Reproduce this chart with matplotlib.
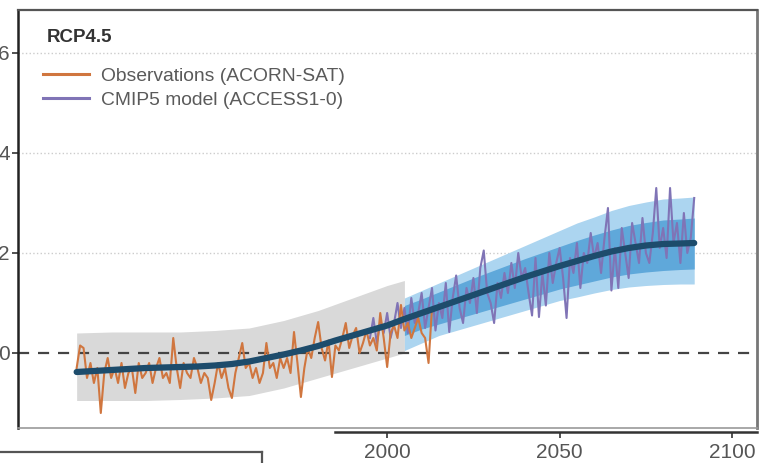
import numpy as np
import matplotlib
matplotlib.use("Agg")
import matplotlib.pyplot as plt
from matplotlib.lines import Line2D

plt.rcParams['font.family'] = ['Liberation Sans', 'DejaVu Sans']

# observed annual anomalies (ACORN-SAT), 1910-2013
obs_years = list(range(1910, 2014))
obs_vals = [
    -0.30, 0.15, 0.10, -0.50, -0.20, -0.60, -0.30, -1.20, -0.40, -0.10,
    -0.50, -0.30, -0.60, -0.20, -0.70, -0.40, -0.30, -0.80, -0.20, -0.50,
    -0.40, -0.20, -0.60, -0.30, -0.10, -0.50, -0.40, -0.60, 0.30, -0.30,
    -0.70, -0.20, -0.40, -0.50, -0.10, -0.30, -0.60, -0.40, -0.50, -0.94,
    -0.60, -0.20, -0.50, -0.30, -0.70, -0.90, -0.40, -0.10, 0.20, -0.30,
    -0.20, -0.50, -0.30, -0.60, -0.40, 0.20, -0.30, -0.20, -0.50, -0.10,
    -0.30, -0.10, -0.40, 0.42, -0.20, -0.88, -0.30, 0.10, -0.10, 0.30,
    0.62, 0.10, -0.15, 0.25, -0.48, 0.15, 0.05, 0.30, 0.60, 0.10,
    0.35, 0.50, 0.00, 0.20, 0.45, 0.15, 0.30, 0.05, 0.80, 0.30,
    -0.28, 0.40, 0.55, 0.30, 0.96, 0.45, 0.60, 0.30, 0.50, 0.70,
    0.40, 0.30, -0.20, 0.90,
]

# simulated annual anomalies (ACCESS1-0), 1995-2089
mod_years = list(range(1995, 2090))
mod_vals = [
    0.30, 0.70, 0.20, 0.60, 0.40,
    0.80, 0.30, 0.60, 1.00, 0.50, 0.90, 0.40, 1.10, 0.60, 0.80,
    1.20, 0.50, 0.90, 1.30, 0.45, 1.00, 0.70, 1.40, 0.42, 1.10,
    1.55, 0.90, 0.60, 1.30, 1.00, 1.50, 0.80, 1.70, 2.05, 1.20,
    1.00, 0.60, 1.40, 1.10, 1.60, 1.20, 1.80, 1.30, 2.00, 1.50,
    1.70, 1.20, 0.75, 1.90, 0.72, 1.60, 0.95, 2.00, 1.40, 1.80,
    2.10, 1.50, 0.70, 1.90, 1.60, 2.20, 1.30, 2.00, 1.80, 2.40,
    1.90, 2.20, 1.60, 2.30, 2.90, 1.25, 2.10, 1.30, 2.50, 2.00,
    1.50, 2.60, 2.20, 1.80, 2.70, 2.00, 1.80, 2.40, 3.30, 2.10,
    2.50, 1.90, 3.30, 2.20, 2.60, 1.80, 2.80, 2.00, 2.30, 3.10,
]

# multi-model mean (smoothed)
mean_years = [1910, 1915, 1920, 1925, 1930, 1935, 1940, 1945, 1950, 1955,
              1960, 1965, 1970, 1975, 1980, 1985, 1990, 1995, 2000, 2005,
              2010, 2015, 2020, 2025, 2030, 2035, 2040, 2045, 2050, 2055,
              2060, 2065, 2070, 2075, 2080, 2085, 2089]
mean_vals = [-0.38, -0.36, -0.34, -0.32, -0.30, -0.29, -0.28, -0.27, -0.25, -0.22,
             -0.17, -0.10, -0.03, 0.05, 0.14, 0.25, 0.35, 0.45, 0.55, 0.68,
             0.80, 0.92, 1.04, 1.16, 1.28, 1.40, 1.52, 1.63, 1.74, 1.84,
             1.94, 2.03, 2.10, 2.15, 2.18, 2.19, 2.20]

# historical ensemble range
hist_years = [1910, 1920, 1930, 1940, 1950, 1960, 1970, 1980, 1990, 2000, 2005]
hist_hi = [0.40, 0.42, 0.42, 0.42, 0.45, 0.50, 0.65, 0.85, 1.10, 1.35, 1.45]
hist_lo = [-0.95, -0.95, -0.95, -0.93, -0.90, -0.85, -0.70, -0.50, -0.30, -0.10, 0.00]

# projection ranges
proj_years = [2005, 2010, 2015, 2020, 2025, 2030, 2035, 2040, 2045, 2050,
              2055, 2060, 2065, 2070, 2075, 2080, 2085, 2089]
outer_hi = [1.10, 1.25, 1.40, 1.55, 1.70, 1.85, 2.00, 2.15, 2.30, 2.45,
            2.60, 2.72, 2.85, 2.95, 3.02, 3.08, 3.10, 3.12]
outer_lo = [0.05, 0.20, 0.35, 0.45, 0.55, 0.65, 0.75, 0.85, 0.95, 1.05,
            1.12, 1.20, 1.27, 1.32, 1.35, 1.37, 1.38, 1.38]
inner_hi = [0.95, 1.08, 1.22, 1.36, 1.50, 1.63, 1.76, 1.89, 2.01, 2.13,
            2.25, 2.36, 2.46, 2.55, 2.61, 2.66, 2.68, 2.70]
inner_lo = [0.35, 0.48, 0.58, 0.68, 0.78, 0.88, 0.98, 1.08, 1.18, 1.28,
            1.36, 1.44, 1.52, 1.58, 1.62, 1.65, 1.67, 1.68]

fig = plt.figure(figsize=(7.67, 4.63), dpi=100)
ax = fig.add_axes([18 / 767, 35 / 463, 739 / 767, 418 / 463])

ax.fill_between(hist_years, hist_lo, hist_hi, color='#d9d9d9', lw=0, zorder=1)
ax.fill_between(proj_years, outer_lo, outer_hi, color='#acd5f0', lw=0, zorder=1)
ax.fill_between(proj_years, inner_lo, inner_hi, color='#5fa8da', lw=0, zorder=1)

ax.axhline(0, color='#444444', lw=1.6, ls=(0, (5, 4)), zorder=2)
for g in [2, 4, 6]:
    ax.axhline(g, color='#cccccc', lw=1.0, ls=':', zorder=0)

ax.plot(mod_years, mod_vals, color='#8074b6', lw=1.5, zorder=3,
        label='CMIP5 model (ACCESS1-0)')
ax.plot(obs_years, obs_vals, color='#d0763f', lw=1.5, zorder=4,
        label='Observations (ACORN-SAT)')
ax.plot(mean_years, mean_vals, color='#1d4c6c', lw=4.5, zorder=5,
        solid_capstyle='round')

ax.set_xlim(1893, 2107.2)
ax.set_ylim(-1.5, 6.86)
ax.set_xticks([2000, 2050, 2100])
ax.set_yticks([0, 2, 4, 6])
ax.tick_params(axis='both', labelsize=15, labelcolor='#555555', color='#333333',
               length=4, width=1.2)
ax.tick_params(axis='y', pad=2)

ax.spines['left'].set_color('#222222')
ax.spines['left'].set_linewidth(1.8)
ax.spines['top'].set_color('#555555')
ax.spines['top'].set_linewidth(1.6)
ax.spines['right'].set_color('#777777')
ax.spines['right'].set_linewidth(2.0)
ax.spines['bottom'].set_position(('outward', 3))
ax.spines['bottom'].set_bounds(1985, 2107.2)
ax.spines['bottom'].set_color('#333333')
ax.spines['bottom'].set_linewidth(1.8)
ax.plot([0, 1], [0, 0], transform=ax.transAxes, color='#999999', lw=1.2,
        clip_on=False, zorder=6)

# panel title and legend
ax.text(0.039, 0.935, 'RCP4.5', transform=ax.transAxes, fontsize=13.5,
        fontweight='bold', color='#333333', va='center', ha='left')
handles, labels = ax.get_legend_handles_labels()
leg = ax.legend(handles[::-1], labels[::-1], loc='upper left',
                bbox_to_anchor=(0.034, 0.863), frameon=False, borderpad=0,
                borderaxespad=0, fontsize=13.9, handlelength=2.4,
                handletextpad=0.6, labelspacing=0.33)
for t in leg.get_texts():
    t.set_color('#5a5a5a')
for h in leg.get_lines():
    h.set_linewidth(2.2)

# edge of neighbouring panel
fig.add_artist(Line2D([0, 262 / 767], [11 / 463, 11 / 463],
                      transform=fig.transFigure, color='#555555', lw=1.6))
fig.add_artist(Line2D([262 / 767, 262 / 767], [11 / 463, 0],
                      transform=fig.transFigure, color='#555555', lw=1.6))

fig.savefig('out.png', dpi=100)
